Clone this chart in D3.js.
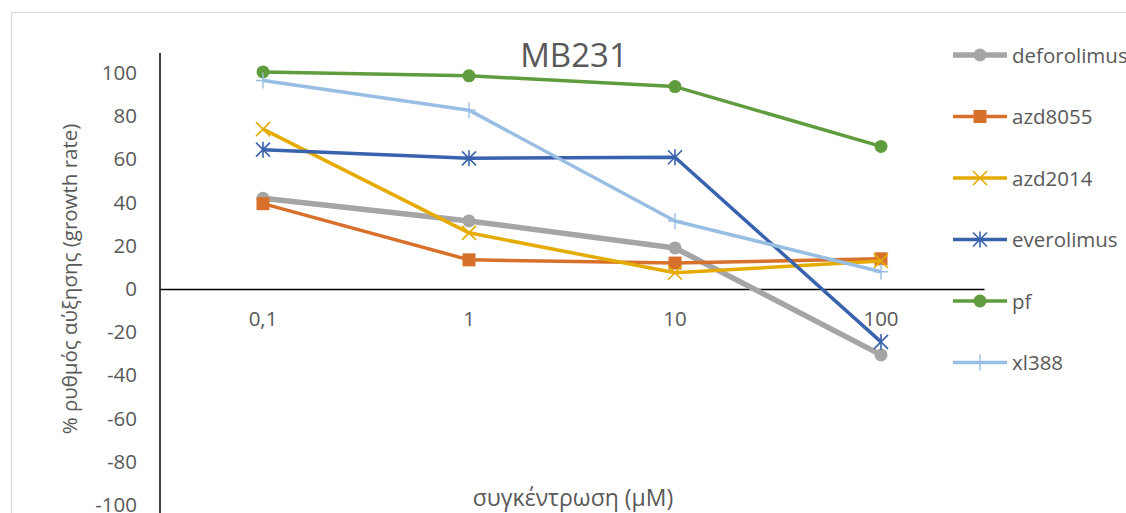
<!DOCTYPE html>
<html>
<head>
<meta charset="utf-8">
<script src="https://cdn.jsdelivr.net/npm/d3@7"></script>
<style>
  html, body { margin: 0; padding: 0; background: #fff; }
  svg { display: block; }
  text { font-family: "Open Sans", "Noto Sans", sans-serif; fill: #595959; }
</style>
</head>
<body>
<svg id="chart" width="1126" height="513"></svg>
<script>
// Concentrations (µM), shown as equally spaced categories
const categories = ["0,1", "1", "10", "100"];

// Growth rate (%) per compound at each concentration
const deforolimus = [42, 31.5, 19, -30.5];
const azd8055     = [39.5, 13.5, 12, 14];
const azd2014     = [74, 26, 7.5, 13];
const everolimus  = [64.5, 60.5, 61, -24.5];
const pf          = [100.5, 98.7, 93.7, 66];
const xl388       = [96.5, 82.8, 31.5, 8];

const yTicks = [100, 80, 60, 40, 20, 0, -20, -40, -60, -80, -100];

const series = [
  { name: "deforolimus", values: deforolimus, color: "#A5A5A5", marker: "circle", width: 5.5 },
  { name: "azd8055",     values: azd8055,     color: "#D6702B", marker: "square", width: 3.5 },
  { name: "azd2014",     values: azd2014,     color: "#E5AB00", marker: "x",      width: 3.5 },
  { name: "everolimus",  values: everolimus,  color: "#3A63AD", marker: "star",   width: 3.5 },
  { name: "pf",          values: pf,          color: "#5F9C3D", marker: "circle", width: 3.5 },
  { name: "xl388",       values: xl388,       color: "#99BEE3", marker: "plus",   width: 3.5 }
];

const svg = d3.select("#chart");

// chart area frame
svg.append("rect")
  .attr("x", 11.5).attr("y", 12.5)
  .attr("width", 1300).attr("height", 700)
  .attr("fill", "none").attr("stroke", "#D9D9D9").attr("stroke-width", 1);

const plot = { left: 160, right: 984, top: 73, bottom: 505 };

const x = d3.scaleBand().domain(categories).range([plot.left, plot.right]);
const y = d3.scaleLinear().domain([-100, 100]).range([plot.bottom, plot.top]);
const cx = c => x(c) + x.bandwidth() / 2;

// y axis (plain hyphen for negatives)
const yAxis = svg.append("g")
  .attr("transform", `translate(${plot.left},0)`)
  .call(d3.axisLeft(y).tickValues(yTicks).tickFormat(d => String(d)).tickSize(0).tickPadding(23));
yAxis.select(".domain").attr("stroke", "#000").attr("stroke-width", 1.5)
  .attr("d", `M0,${y(100) - 20}V${plot.bottom + 20}`);
yAxis.selectAll("text").style("font-size", "20.5px").attr("fill", "#595959");

// x axis on the zero line
const xAxis = svg.append("g")
  .attr("transform", `translate(0,${y(0)})`)
  .call(d3.axisBottom(x).tickSize(0).tickPadding(22));
xAxis.select(".domain").attr("stroke", "#000").attr("stroke-width", 1.5);
xAxis.selectAll("text").style("font-size", "20.5px").attr("fill", "#595959");

// titles
svg.append("text")
  .attr("x", 574).attr("y", 67)
  .attr("text-anchor", "middle")
  .style("font-size", "33px")
  .text("MB231");

svg.append("text")
  .attr("x", 573).attr("y", 506)
  .attr("text-anchor", "middle")
  .style("font-size", "23px")
  .text("συγκέντρωση (μM)");

svg.append("text")
  .attr("transform", `translate(77,279) rotate(-90)`)
  .attr("text-anchor", "middle")
  .style("font-size", "20.5px")
  .text("% ρυθμός αύξησης (growth rate)");

// marker drawing
function drawMarker(g, type, color) {
  if (type === "circle") {
    g.append("circle").attr("r", 6.5).attr("fill", color);
  } else if (type === "square") {
    g.append("rect").attr("x", -6.5).attr("y", -6.5).attr("width", 13).attr("height", 13)
      .attr("fill", color);
  } else if (type === "x") {
    g.append("path").attr("d", "M-7,-7L7,7M-7,7L7,-7")
      .attr("stroke", color).attr("stroke-width", 1.6).attr("fill", "none");
  } else if (type === "star") {
    g.append("path").attr("d", "M-7,-7L7,7M-7,7L7,-7M0,-8V8")
      .attr("stroke", color).attr("stroke-width", 1.6).attr("fill", "none");
  } else if (type === "plus") {
    g.append("path").attr("d", "M-7,0H7M0,-8V8")
      .attr("stroke", color).attr("stroke-width", 1.4).attr("fill", "none");
  }
}

const line = d3.line()
  .x((d, i) => cx(categories[i]))
  .y(d => y(d));

const g = svg.append("g");
series.forEach(s => {
  g.append("path")
    .datum(s.values)
    .attr("d", line)
    .attr("fill", "none")
    .attr("stroke", s.color)
    .attr("stroke-width", s.width)
    .attr("stroke-linejoin", "round");
  s.values.forEach((v, i) => {
    const m = g.append("g").attr("transform", `translate(${cx(categories[i])},${y(v)})`);
    drawMarker(m, s.marker, s.color);
  });
});

// legend
const legend = svg.append("g");
series.forEach((s, i) => {
  const ly = 55 + i * 61.5;
  const item = legend.append("g").attr("transform", `translate(953,${ly})`);
  item.append("line").attr("x1", 0).attr("x2", 54).attr("y1", 0).attr("y2", 0)
    .attr("stroke", s.color).attr("stroke-width", s.width);
  const m = item.append("g").attr("transform", "translate(27,0)");
  drawMarker(m, s.marker, s.color);
  item.append("text").attr("x", 59).attr("y", 7.5)
    .style("font-size", "20.5px")
    .text(s.name);
});
</script>
</body>
</html>
